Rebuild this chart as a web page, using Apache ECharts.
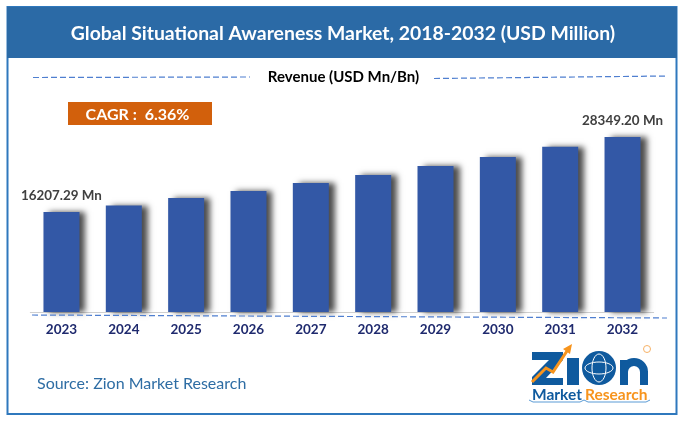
<!DOCTYPE html>
<html><head><meta charset="utf-8">
<style>html,body{margin:0;padding:0;background:#fff}#c{width:686px;height:421px}</style>
<script src="https://cdn.jsdelivr.net/npm/echarts@6/dist/echarts.min.js"></script>
</head><body><div id="c"></div>
<script>
const years = ['2023','2024','2025','2026','2027','2028','2029','2030','2031','2032'];
const revenue = [16207.29,17250,18450,19600,20900,22200,23650,25100,26750,28349.20];
const titleText = 'Global Situational Awareness Market, 2018-2032 (USD Million)';
const subtitleText = 'Revenue (USD Mn/Bn)';
const cagrText = 'CAGR :  6.36%';
const sourceText = 'Source: Zion Market Research';
const F = 'Lato, "Open Sans", sans-serif';
const chart = echarts.init(document.getElementById('c'), null, {renderer:'canvas'});
const dash = (x1,y1,x2,y2)=>({type:'line',silent:true,z:5,shape:{x1,y1,x2,y2},
  style:{stroke:'#4f7fd0',lineWidth:1.2,lineDash:[6,3]}});
const txt = (x,y,text,font,fill,align)=>({type:'text',silent:true,z:6,x,y,
  style:{text,font,fill,textAlign:align||'left',textVerticalAlign:'middle'}});
chart.setOption({
  animation:false,
  backgroundColor:'#fff',
  grid:{left:30.3,right:32.3,top:126.8,bottom:109},
  xAxis:{type:'category',data:years,
    axisLine:{lineStyle:{color:'#d0d0d0',width:1}},axisTick:{show:false},
    axisLabel:{color:'#1f2a6e',fontFamily:F,fontWeight:'bold',fontSize:13.5,margin:11}},
  yAxis:{type:'value',min:0,max:30000,show:false,splitLine:{show:false}},
  series:[{type:'bar',data:revenue,barWidth:36,z:3,
    itemStyle:{color:'#3358a6',shadowColor:'rgba(0,0,0,0.7)',shadowBlur:6,shadowOffsetX:6,shadowOffsetY:0},
    label:{show:true,position:'top',distance:10,fontFamily:F,fontWeight:'bold',fontSize:13.4,color:'#404040',
      formatter:p=>(p.dataIndex===0||p.dataIndex===years.length-1)?p.value.toFixed(2)+' Mn':''}}],
  graphic:{elements:[
    {type:'rect',silent:true,z:1,shape:{x:7.5,y:7,width:669,height:407},style:{fill:'none',stroke:'#2f78bd',lineWidth:2}},
    {type:'rect',silent:true,z:2,shape:{x:7,y:7,width:670,height:51},style:{fill:'#2b6aa6'}},
    txt(343,34,titleText,'bold 19.4px '+F,'#fff','center'),
    dash(33,77.5,250,77),dash(434,78.5,668,76),dash(32,315,667,318),
    txt(343.5,77,subtitleText,'bold 15px '+F,'#000','center'),
    {type:'rect',silent:true,z:5,shape:{x:68,y:102,width:144,height:23},style:{fill:'#d2600c'}},
    txt(137.5,115,cagrText,'bold 16px '+F,'#fff','center'),
    txt(37,384,sourceText,'16px '+F,'#2e6da4'),
    // logo
    {type:'polygon',silent:true,z:6,shape:{points:[[532,352],[563,352],[563,360],[546,378],[563,378],[563,385],[532,385],[532,377],[549,360],[532,360]]},style:{fill:'#0f5a9e'}},
    {type:'rect',silent:true,z:6,shape:{x:567,y:358,width:12,height:27},style:{fill:'#0f5a9e'}},
    {type:'polyline',silent:true,z:7,shape:{points:[[532,382],[546,368],[553,372],[569,348]]},style:{stroke:'#f7941d',fill:'none',lineWidth:3}},
    {type:'polygon',silent:true,z:7,shape:{points:[[572,344],[570,354],[563,349]]},style:{fill:'#f7941d'}},
    {type:'circle',silent:true,z:6,shape:{cx:599,cy:368,r:17},style:{fill:'#0f5a9e'}},
    {type:'ellipse',silent:true,z:7,shape:{cx:599,cy:368,rx:7,ry:14},style:{fill:'none',stroke:'#fff',lineWidth:1}},
    {type:'ellipse',silent:true,z:7,shape:{cx:599,cy:368,rx:14,ry:6},style:{fill:'none',stroke:'#fff',lineWidth:1}},
    {type:'rect',silent:true,z:6,shape:{x:620,y:360,width:8,height:25},style:{fill:'#0f5a9e'}},
    {type:'rect',silent:true,z:6,shape:{x:640,y:371,width:8,height:14},style:{fill:'#0f5a9e'}},
    {type:'arc',silent:true,z:6,shape:{cx:634,cy:372,r:10,startAngle:Math.PI,endAngle:0,clockwise:true},style:{fill:'none',stroke:'#0f5a9e',lineWidth:8}},
    {type:'circle',silent:true,z:7,shape:{cx:647,cy:349,r:3.5},style:{fill:'#fff',stroke:'#f7b267',lineWidth:1}},
    txt(532,395,'Market','bold 15.5px '+F,'#0f5a9e'),
    txt(585,395,'Research','bold 15.5px '+F,'#f7941d'),
    {type:'polyline',silent:true,z:6,shape:{points:[[529,400],[533,402],[580,402],[584,400],[588,402],[646,402],[650,400]]},style:{stroke:'#5b9bd5',fill:'none',lineWidth:1}}
  ]}
});
</script></body></html>
